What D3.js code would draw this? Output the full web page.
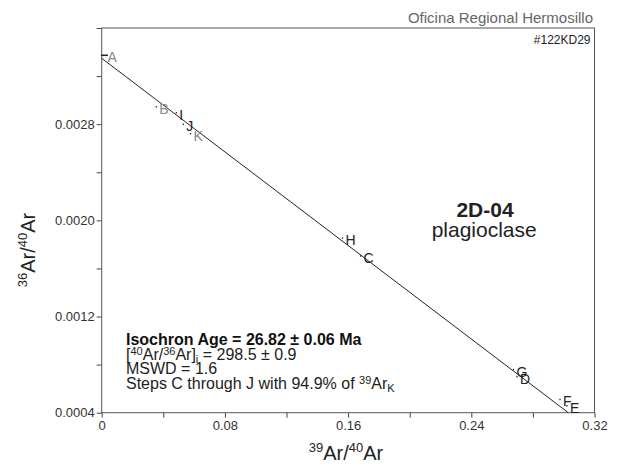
<!DOCTYPE html>
<html><head><meta charset="utf-8">
<script src="https://cdn.jsdelivr.net/npm/d3@7"></script>
<style>body{margin:0;background:#fff;}svg{display:block;font-family:Arial,"Liberation Sans",sans-serif;}</style>
</head><body><svg id="c" width="624" height="468"></svg>
<script>
// ---- data ----
const stepLabels = ["A","B","I","J","K","H","C","G","D","F","E"];
const x39_40 = [0.0018,0.03545,0.04844,0.05299,0.05766,0.15636,0.16805,0.2674,0.26968,0.2976,0.30214];
const y36_40 = [0.003373,0.002945,0.002894,0.0028,0.002721,0.001853,0.001703,0.000759,0.000698,0.00051,0.000457];
const xErr = [0.0023,0.0004,0.0004,0.0004,0.0004,0.0004,0.0004,0.0004,0.0004,0.0004,0.0004];
const included = [false,false,true,true,false,true,true,true,true,true,true];
const isoX = [0, 0.30299];
const isoY = [0.003348, 0.0004];
const xTicks = [0,0.04,0.08,0.12,0.16,0.20,0.24,0.28,0.32];
const xTickLabels = ["0","","0.08","","0.16","","0.24","","0.32"];
const yTicks = [0.0004,0.0008,0.0012,0.0016,0.0020,0.0024,0.0028,0.0032,0.0036];
const yTickLabels = ["0.0004","","0.0012","","0.0020","","0.0028","",""];
const sampleName = "2D-04";
const mineral = "plagioclase";
const office = "Oficina Regional Hermosillo";
const sampleId = "#122KD29";

const svg = d3.select("#c");
const L=101.7, R=594.5, T=28, B=412.7;
const x = d3.scaleLinear().domain([0,0.32]).range([L,R]);
const y = d3.scaleLinear().domain([0.0004,0.0036]).range([B,T]);

// axes
const xAxis = d3.axisBottom(x).tickValues(xTicks).tickSize(5).tickPadding(3)
  .tickFormat((d,i)=>xTickLabels[i]);
const yAxis = d3.axisLeft(y).tickValues(yTicks).tickSize(5).tickPadding(2)
  .tickFormat((d,i)=>yTickLabels[i]);
const gx = svg.append("g").attr("transform",`translate(0,${B})`).call(xAxis);
const gy = svg.append("g").attr("transform",`translate(${L},0)`).call(yAxis);
[gx,gy].forEach(g=>{
  g.select(".domain").remove();
  g.selectAll(".tick line").attr("stroke","#444");
  g.selectAll(".tick text").attr("fill","#333").style("font-size","13px").style("font-family","Arial,'Liberation Sans',sans-serif");
});
// frame
svg.append("rect").attr("x",L).attr("y",T).attr("width",R-L).attr("height",B-T)
  .attr("fill","none").attr("stroke","#555").attr("stroke-width",1);

// isochron line
svg.append("line").attr("x1",x(isoX[0])).attr("y1",y(isoY[0]))
  .attr("x2",x(isoX[1])).attr("y2",y(isoY[1])).attr("stroke","#222").attr("stroke-width",1);

// points
const pts = stepLabels.map((s,i)=>({s,x:x39_40[i],y:y36_40[i],e:xErr[i],inc:included[i]}));
svg.selectAll("line.pt").data(pts).enter().append("line").attr("class","pt")
  .attr("x1",d=>x(d.x-d.e)).attr("x2",d=>x(d.x+d.e))
  .attr("y1",d=>y(d.y)).attr("y2",d=>y(d.y)).attr("stroke","#222").attr("stroke-width",1.5);
svg.selectAll("text.lab").data(pts).enter().append("text").attr("class","lab")
  .attr("x",d=>x(d.x)+3).attr("y",d=>y(d.y)+7)
  .attr("fill",d=>d.inc?"#222":"#888").style("font-size","14px").text(d=>d.s);

// header texts
svg.append("text").attr("x",593).attr("y",22.5).attr("text-anchor","end")
  .attr("fill","#666").style("font-size","15px").text(office);
svg.append("text").attr("x",590.5).attr("y",43.5).attr("text-anchor","end")
  .attr("fill","#222").style("font-size","12px").text(sampleId);

// sample name
svg.append("text").attr("x",485).attr("y",216.7).attr("text-anchor","middle")
  .attr("fill","#222").style("font-size","21px").style("font-weight","bold").text(sampleName);
svg.append("text").attr("x",484.2).attr("y",237).attr("text-anchor","middle")
  .attr("fill","#222").style("font-size","21px").text(mineral);

// axis titles
function sup(t, parts, base, small){
  parts.forEach(p=>{
    const ts=t.append("tspan").text(p[0]);
    if(p[1]==="sup"){ts.style("font-size",small+"px").attr("dy",-base*0.4);}
    else {ts.style("font-size",base+"px");}
    if(p[2]) ts.attr("dy",p[2]);
  });
}
const xt = svg.append("text").attr("x",346).attr("y",460).attr("text-anchor","middle").attr("fill","#222");
sup(xt,[["39","sup"],["Ar","n",8],["/","n"],["40","sup"],["Ar","n",8]],20,13);
const yt = svg.append("text").attr("transform","translate(35,250) rotate(-90)").attr("text-anchor","middle").attr("fill","#222");
sup(yt,[["36","sup"],["Ar","n",8],["/","n"],["40","sup"],["Ar","n",8]],20,13);

// results block
const tx=126;
svg.append("text").attr("x",tx).attr("y",345).attr("fill","#111").style("font-size","16px").style("font-weight","bold")
  .text("Isochron Age = 26.82 \u00b1 0.06 Ma");
const l2 = svg.append("text").attr("x",tx).attr("y",359.5).attr("fill","#222").style("font-size","16px");
l2.append("tspan").text("[");
l2.append("tspan").text("40").style("font-size","11px").attr("dy",-5);
l2.append("tspan").text("Ar/").attr("dy",5);
l2.append("tspan").text("36").style("font-size","11px").attr("dy",-5);
l2.append("tspan").text("Ar]").attr("dy",5);
l2.append("tspan").text("i").style("font-size","11px").attr("dy",3);
l2.append("tspan").text(" = 298.5 \u00b1 0.9").attr("dy",-3);
svg.append("text").attr("x",tx).attr("y",374).attr("fill","#222").style("font-size","16px").text("MSWD = 1.6");
const l4 = svg.append("text").attr("x",tx).attr("y",388.5).attr("fill","#222").style("font-size","16px");
l4.append("tspan").text("Steps C through J with 94.9% of ");
l4.append("tspan").text("39").style("font-size","11px").attr("dy",-5);
l4.append("tspan").text("Ar").attr("dy",5);
l4.append("tspan").text("K").style("font-size","11px").attr("dy",3);
</script></body></html>
